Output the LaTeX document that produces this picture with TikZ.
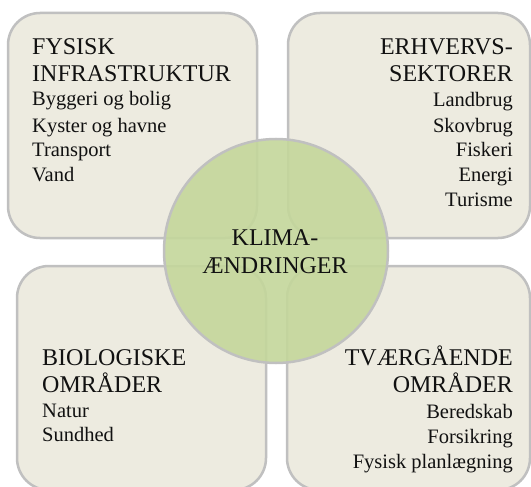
\documentclass[tikz,border=0pt]{standalone}
\usepackage{fontspec}
\setmainfont{Liberation Serif}
\definecolor{boxfill}{HTML}{EDEBE0}
\definecolor{boxline}{HTML}{C0C0C0}
\definecolor{circfill}{HTML}{C4D79B}
\definecolor{txt}{HTML}{111111}
\tikzset{
  quad/.style={draw=boxline, line width=2.5pt, fill=boxfill, rounded corners=32pt},
  hub/.style={draw=boxline, line width=2.5pt, fill=circfill, fill opacity=0.9},
  ttl/.style={inner sep=0pt, text=txt, font=\fontsize{24}{27}\selectfont},
  itm/.style={inner sep=0pt, text=txt, font=\fontsize{20.5}{25}\selectfont},
  lw/.style={anchor=base west},
  le/.style={anchor=base east},
  lc/.style={anchor=base}
}
\begin{document}
\begin{tikzpicture}[x=1pt,y=-1pt]
\useasboundingbox (0,0) rectangle (531,487);
\clip (0,0) rectangle (531,487);
\fill[white] (0,0) rectangle (531,487);
% boxes
\draw[quad] (8,13) rectangle (257,238);
\draw[quad] (288,13) rectangle (530,238);
\draw[quad] (17,266) rectangle (266,490);
\draw[quad] (287,266) rectangle (530,490);
% circle
\draw[hub] (276,251) circle[radius=112];
% top-left
\node[ttl,lw] (tl1) at (32,55) {FYSISK};
\node[ttl,lw] (tl2) at (32,82) {INFRASTRUKTUR};
\node[itm,lw] (tl3) at (32,106) {Byggeri og bolig};
\node[itm,lw] (tl4) at (32,132) {Kyster og havne};
\node[itm,lw] (tl5) at (32,157) {Transport};
\node[itm,lw] (tl6) at (32,182) {Vand};
% top-right
\node[ttl,le] (tr1) at (513,55) {ERHVERVS-};
\node[ttl,le] (tr2) at (513,82) {SEKTORER};
\node[itm,le] (tr3) at (513,107) {Landbrug};
\node[itm,le] (tr4) at (513,132) {Skovbrug};
\node[itm,le] (tr5) at (513,157) {Fiskeri};
\node[itm,le] (tr6) at (513,182) {Energi};
\node[itm,le] (tr7) at (513,207) {Turisme};
% bottom-left
\node[ttl,lw] (bl1) at (42,365) {BIOLOGISKE};
\node[ttl,lw] (bl2) at (42,392) {OMRÅDER};
\node[itm,lw] (bl3) at (42,417) {Natur};
\node[itm,lw] (bl4) at (42,441) {Sundhed};
% bottom-right
\node[ttl,le] (br1) at (513,365) {TVÆRGÅENDE};
\node[ttl,le] (br2) at (513,392) {OMRÅDER};
\node[itm,le] (br3) at (513,418) {Beredskab};
\node[itm,le] (br4) at (513,443) {Forsikring};
\node[itm,le] (br5) at (513,468) {Fysisk planlægning};
% centre
\node[ttl,lc] (c1) at (275,245) {KLIMA-};
\node[ttl,lc] (c2) at (275,273) {ÆNDRINGER};
\end{tikzpicture}
\end{document}
